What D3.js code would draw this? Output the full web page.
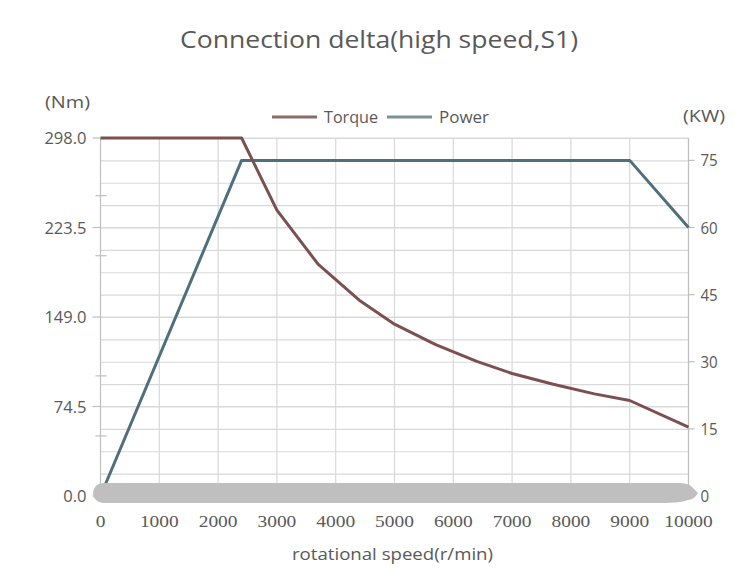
<!DOCTYPE html>
<html><head><meta charset="utf-8">
<script src="https://cdn.jsdelivr.net/npm/d3@7"></script>
<style>body{margin:0;background:#fff}svg{display:block}</style>
</head><body>
<svg id="c" width="741" height="572"></svg>
<script>
const speedTicks = [0,1000,2000,3000,4000,5000,6000,7000,8000,9000,10000];
const torqueTicks = [0,74.5,149,223.5,298];
const torqueMinor = [50,100,200,250];
const powerTicks = [0,15,30,45,60,75];
const powerGrid = [5,10,15,20,25,30,35,40,45,50,55,60,65,70,75,80];
const torqueSpeed = [0,500,1000,1500,2000,2400,3000,3700,4400,5000,5700,6400,7000,7700,8400,9000,10000];
const torqueVals  = [298,298,298,298,298,298,238,193,163,143,126,112,102,93,85,79.5,57.3];
const powerSpeed = [0,2400,9000,10000];
const powerVals  = [0,75,75,60];

const svg = d3.select("#c");
const x = d3.scaleLinear().domain([0,10000]).range([100.5,688.5]);
const yL = d3.scaleLinear().domain([0,298]).range([496,138]);
const yR = d3.scaleLinear().domain([0,80]).range([496,138]);
const grid = "#d9d9d9", txt = "#595959", axc = "#bfbfbf";
const F = "Open Sans";

function fit(sel, w){ // width per label
  sel.attr("textLength", w).attr("lengthAdjust","spacingAndGlyphs");
}
function numW(s, dw, pw){ let w=0; for(const ch of String(s)) w += (ch==='.'?pw:dw); return w; }

// grid
const g = svg.append("g");
g.selectAll(".hg").data(powerGrid).enter().append("line")
  .attr("x1",x(0)).attr("x2",x(10000)).attr("y1",d=>yR(d)+0.5).attr("y2",d=>yR(d)+0.5)
  .attr("stroke",grid).attr("stroke-width",1.2);
g.selectAll(".hl").data(torqueTicks.slice(1)).enter().append("line")
  .attr("x1",x(0)).attr("x2",x(10000)).attr("y1",d=>yL(d)).attr("y2",d=>yL(d))
  .attr("stroke",grid).attr("stroke-width",1.2);
g.selectAll(".vg").data(speedTicks.slice(1)).enter().append("line")
  .attr("x1",d=>x(d)).attr("x2",d=>x(d)).attr("y1",yL(298)).attr("y2",yL(0))
  .attr("stroke",grid).attr("stroke-width",1.2);

// left axis
const la = svg.append("g");
la.append("line").attr("x1",x(0)).attr("x2",x(0)).attr("y1",yL(298)).attr("y2",yL(0)).attr("stroke",axc).attr("stroke-width",1.2);
la.selectAll(".mt").data(torqueTicks).enter().append("line")
  .attr("x1",x(0)-8).attr("x2",x(0)).attr("y1",d=>yL(d)).attr("y2",d=>yL(d)).attr("stroke",axc).attr("stroke-width",1.2);
la.selectAll(".nt").data(torqueMinor).enter().append("line")
  .attr("x1",x(0)-5).attr("x2",x(0)+6).attr("y1",d=>yL(d)).attr("y2",d=>yL(d)).attr("stroke",axc).attr("stroke-width",1.2);
la.selectAll(".tl").data(torqueTicks).enter().append("text")
  .attr("x",x(0)-14).attr("y",d=>yL(d)+6).attr("text-anchor","end")
  .attr("font-family",F).attr("font-size",16.5).attr("fill",txt).text(d=>d3.format(".1f")(d))
  .each(function(d){ fit(d3.select(this), numW(d3.format(".1f")(d),9.4,4.5)); });

// right axis
const ra = svg.append("g");
ra.append("line").attr("x1",x(10000)).attr("x2",x(10000)).attr("y1",yR(80)).attr("y2",yR(0)).attr("stroke",axc).attr("stroke-width",1.2);
ra.selectAll(".mt").data(powerTicks).enter().append("line")
  .attr("x1",x(10000)).attr("x2",x(10000)+6).attr("y1",d=>yR(d)).attr("y2",d=>yR(d)).attr("stroke",axc).attr("stroke-width",1.2);
ra.selectAll(".tl").data(powerTicks).enter().append("text")
  .attr("x",x(10000)+12).attr("y",d=>yR(d)+6).attr("text-anchor","start")
  .attr("font-family",F).attr("font-size",16).attr("fill",txt).text(d=>d)
  .each(function(d){ fit(d3.select(this), numW(d,8.6,4)); });

// lines
const lineT = d3.line().x(d=>x(d[0])).y(d=>yL(d[1]));
const lineP = d3.line().x(d=>x(d[0])).y(d=>yR(d[1]));
svg.append("path").datum(powerSpeed.map((s,i)=>[s,powerVals[i]])).attr("d",lineP)
  .attr("fill","none").attr("stroke","#4f6f7d").attr("stroke-width",3).attr("stroke-linejoin","round");
svg.append("path").datum(torqueSpeed.map((s,i)=>[s,torqueVals[i]])).attr("d",lineT)
  .attr("fill","none").attr("stroke","#7b5050").attr("stroke-width",3).attr("stroke-linejoin","round");

// gray blob over x axis
svg.append("path")
  .attr("d",`M103,483 L680,483 Q690,483 694,489 L698,493 Q694,500 688,500 Q682,503 660,503 L103,503 A10,10 0 0 1 103,483 Z`)
  .attr("fill","#bfbfbf");

// x tick labels
svg.selectAll(".xl").data(speedTicks).enter().append("text")
  .attr("x",d=>x(d)).attr("y",527).attr("text-anchor","middle")
  .attr("font-family","Liberation Serif").attr("font-size",17).attr("fill",txt).text(d=>d)
  .each(function(d){ fit(d3.select(this), String(d).length*9.7); });

// titles
fit(svg.append("text").attr("x",379).attr("y",48).attr("text-anchor","middle")
  .attr("font-family",F).attr("font-size",24).attr("fill","#595959").text("Connection delta(high speed,S1)"), 398);
fit(svg.append("text").attr("x",392.5).attr("y",560).attr("text-anchor","middle")
  .attr("font-family",F).attr("font-size",16).attr("fill",txt).text("rotational speed(r/min)"), 201);
fit(svg.append("text").attr("x",45).attr("y",108).attr("font-family",F).attr("font-size",16).attr("fill",txt).text("(Nm)"), 45);
fit(svg.append("text").attr("x",683).attr("y",122).attr("font-family",F).attr("font-size",16).attr("fill",txt).text("(KW)"), 42);

// legend
const leg = [{n:"Torque",c:"#8a6b6b",x:272,tw:54},{n:"Power",c:"#7d929c",x:387,tw:50}];
leg.forEach(l=>{
  svg.append("line").attr("x1",l.x).attr("x2",l.x+45).attr("y1",117).attr("y2",117).attr("stroke",l.c).attr("stroke-width",3);
  fit(svg.append("text").attr("x",l.x+52).attr("y",123).attr("font-family",F).attr("font-size",16).attr("fill",txt).text(l.n), l.tw);
});
</script>
</body></html>
